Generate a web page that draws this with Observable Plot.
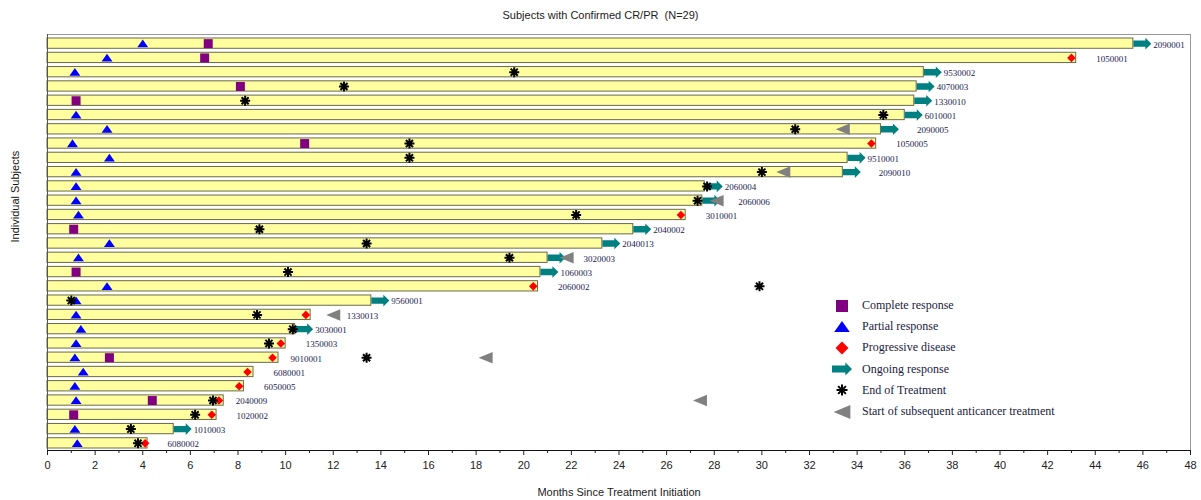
<!DOCTYPE html>
<html><head><meta charset="utf-8">
<script src="https://cdn.jsdelivr.net/npm/d3@7"></script>
<script src="https://cdn.jsdelivr.net/npm/@observablehq/plot@0.6"></script>
<style>
body{margin:0;background:#fff;}
#wrap{position:relative;width:1201px;height:500px;overflow:hidden;background:#fff;}
#title{height:26px;font:11px "Liberation Sans",Arial,sans-serif;line-height:30px;text-align:center;color:#222;white-space:pre;}
#legend{position:absolute;left:830px;top:295px;font:12px "Liberation Serif","Times New Roman",serif;color:#1a1a40;}
.li{display:flex;align-items:center;height:21.2px;white-space:nowrap;}
.li svg{width:24px;height:16px;margin-right:8px;flex:none;}
</style></head><body>
<div id="wrap"><div id="title">Subjects with Confirmed CR/PR  (N=29)</div><div id="chart"></div><div id="legend"></div></div>
<script>
// ---- data (months since treatment initiation) ----
const subjects = ["2090001","1050001","9530002","4070003","1330010","6010001","2090005","1050005","9510001","2090010","2060004","2060006","3010001","2040002","2040013","3020003","1060003","2060002","9560001","1330013","3030001","1350003","9010001","6080001","6050005","2040009","1020002","1010003","6080002"];
const duration = [45.6,43.2,36.8,36.5,36.4,36.0,35.0,34.8,33.6,33.4,27.6,27.5,26.8,24.6,23.3,21.0,20.7,20.6,13.6,11.05,10.4,10.0,9.7,8.65,8.25,7.4,7.1,5.3,4.2];
const complete = [6.75,6.6,null,8.1,1.2,null,null,10.8,null,null,null,null,null,1.1,null,null,1.2,null,null,null,null,null,2.6,null,null,4.4,1.1,null,null];
const partial = [4.0,2.5,1.15,null,null,1.2,2.5,1.05,2.6,1.2,1.2,1.2,1.3,null,2.6,1.3,null,2.5,1.2,1.2,1.4,1.2,1.15,1.5,1.15,1.2,null,1.15,1.25];
const progressive = [null,43.0,null,null,null,null,null,34.6,null,null,null,null,26.6,null,null,null,null,20.4,null,10.85,null,9.8,9.45,8.4,8.05,7.2,6.9,null,4.1];
const endTreatment = [null,null,19.6,12.45,8.3,35.1,31.4,15.2,15.2,30.0,27.7,27.3,22.2,8.9,13.4,19.4,10.1,29.9,1.0,8.8,10.3,9.3,13.4,null,null,6.95,6.2,3.5,3.8];
const subsequent = [null,null,null,null,null,null,33.4,null,null,30.9,null,28.1,null,null,null,21.8,null,null,null,12.0,null,null,18.4,null,null,27.4,null,null,null];
const ongoing = [1,0,1,1,1,1,1,0,1,1,1,1,0,1,1,1,1,0,1,0,1,0,0,0,0,0,0,1,0];
const majorTicks = [0,2,4,6,8,10,12,14,16,18,20,22,24,26,28,30,32,34,36,38,40,42,44,46,48];
const minorTicks = [1,3,5,7,9,11,13,15,17,19,21,23,25,27,29,31,33,35,37,39,41,43,45,47];
const legendLabels = ["Complete response","Partial response","Progressive disease","Ongoing response","End of Treatment","Start of subsequent anticancer treatment"];

const rows = subjects.map((id, i) => ({
  id, dur: duration[i], cr: complete[i], pr: partial[i], pd: progressive[i],
  eot: endTreatment[i], subs: subsequent[i], ongoing: !!ongoing[i]
}));

// ---- custom symbols ----
const arrowSymbol = {draw(ctx, size) {
  const k = Math.sqrt(size / Math.PI) / 9;
  ctx.moveTo(-9*k, -3.2*k); ctx.lineTo(3*k, -3.2*k); ctx.lineTo(3*k, -5.8*k);
  ctx.lineTo(9*k, 0); ctx.lineTo(3*k, 5.8*k); ctx.lineTo(3*k, 3.2*k);
  ctx.lineTo(-9*k, 3.2*k); ctx.closePath();
}};
const leftTriangle = {draw(ctx, size) {
  const r = Math.sqrt(size / Math.PI);
  ctx.moveTo(-1.4*r, 0); ctx.lineTo(1.4*r, -1.15*r); ctx.lineTo(1.4*r, 1.15*r); ctx.closePath();
}};
const starSymbol = {draw(ctx, size) {
  const r = Math.sqrt(size / Math.PI);
  for (let a = 0; a < 4; a++) {
    const t = a * Math.PI / 4;
    ctx.moveTo(-r*Math.cos(t), -r*Math.sin(t)); ctx.lineTo(r*Math.cos(t), r*Math.sin(t));
  }
}};
const upTriangle = {draw(ctx, size) {
  const r = Math.sqrt(size / Math.PI);
  ctx.moveTo(0, -1.0*r); ctx.lineTo(1.3*r, 0.85*r); ctx.lineTo(-1.3*r, 0.85*r); ctx.closePath();
}};
const diamondSym = {draw(ctx, size) {
  const r = Math.sqrt(size / Math.PI);
  ctx.moveTo(0, -r); ctx.lineTo(r, 0); ctx.lineTo(0, r); ctx.lineTo(-r, 0); ctx.closePath();
}};
const squareSym = {draw(ctx, size) {
  const r = Math.sqrt(size / Math.PI);
  ctx.rect(-r, -r, 2*r, 2*r);
}};

const C = {cr:"#800080", pr:"#0000ff", pd:"#ff0000", arrow:"#008080", eot:"#000000", subs:"#808080"};

// label placement groups (a subsequent-treatment marker near the bar end pushes the label further right)
const nearSubs = d => d.subs != null && d.subs > d.dur - 5 && d.subs < d.dur + 3;
const farSubs = d => d.subs != null && !nearSubs(d);
const noSubs = d => d.subs == null;

const has = k => rows.filter(d => d[k] != null);
const labelStyle = {x: "dur", y: "id", text: "id", dy: 1, textAnchor: "start",
  fontFamily: '"Liberation Serif", "Times New Roman", serif', fontSize: 9, fill: "#1a1a50"};

const chart = Plot.plot({
  width: 1201,
  height: 474,
  marginLeft: 47,
  marginRight: 11,
  marginTop: 8,
  marginBottom: 50,
  style: {fontFamily: '"Liberation Sans", Arial, sans-serif', fontSize: "11px", color: "#222", background: "#fff"},
  x: {domain: [0, 48]},
  y: {type: "band", domain: subjects, padding: 0, round: false, insetTop: 2, axis: null},
  marks: [
    Plot.frame({stroke: "#999"}),
    Plot.barX(rows, {x1: 0, x2: "dur", y: "id", fill: "#ffffa0", stroke: "#6a6a4a", strokeWidth: 1, insetTop: 2, insetBottom: 2}),
    Plot.dot(rows.filter(d => d.ongoing), {x: "dur", y: "id", symbol: arrowSymbol, r: 9, dx: 9, fill: C.arrow, stroke: "none"}),
    Plot.dot(has("subs"), {x: "subs", y: "id", symbol: leftTriangle, r: 5, fill: C.subs, stroke: "none"}),
    Plot.dot(has("cr"), {x: "cr", y: "id", symbol: squareSym, r: 4.5, fill: C.cr, stroke: "none"}),
    Plot.dot(has("pr"), {x: "pr", y: "id", symbol: upTriangle, r: 4.2, fill: C.pr, stroke: "none"}),
    Plot.dot(has("pd"), {x: "pd", y: "id", symbol: diamondSym, r: 4.3, fill: C.pd, stroke: "none"}),
    Plot.dot(has("eot"), {x: "eot", y: "id", symbol: starSymbol, r: 5, fill: "none", stroke: C.eot, strokeWidth: 2}),
    Plot.text(rows.filter(noSubs), {...labelStyle, dx: 20}),
    Plot.text(rows.filter(nearSubs), {...labelStyle, dx: 36}),
    Plot.text(rows.filter(farSubs), {...labelStyle, dx: 12}),
    Plot.frame({anchor: "left", stroke: "#555"}),
    Plot.frame({anchor: "bottom", stroke: "#111"}),
    Plot.axisX({ticks: minorTicks, tickSize: 3, tickFormat: () => "", label: null}),
    Plot.axisX({ticks: majorTicks, tickSize: 5, tickPadding: 6, fontSize: 11,
      label: "Months Since Treatment Initiation", labelAnchor: "center", labelArrow: "none", labelOffset: 45}),
    Plot.text(["Individual Subjects"], {frameAnchor: "left", rotate: -90, dx: -32, fontSize: 11, fill: "#111"})
  ]
});
document.getElementById("chart").appendChild(chart);

// ---- legend ----
const legendSymbols = [
  {sym: squareSym, r: 6, fill: C.cr},
  {sym: upTriangle, r: 6, fill: C.pr},
  {sym: diamondSym, r: 6.5, fill: C.pd},
  {sym: arrowSymbol, r: 10, fill: C.arrow},
  {sym: starSymbol, r: 5.5, stroke: C.eot},
  {sym: leftTriangle, r: 6, fill: C.subs}
];
const legend = d3.select("#legend");
legendLabels.forEach((lab, i) => {
  const s = legendSymbols[i];
  const row = legend.append("div").attr("class", "li");
  const svg = row.append("svg").attr("viewBox", "-12 -8 24 16");
  svg.append("path")
    .attr("d", d3.symbol(s.sym, Math.PI * s.r * s.r)())
    .attr("fill", s.fill || "none")
    .attr("stroke", s.stroke || "none")
    .attr("stroke-width", s.stroke ? 2 : 0);
  row.append("span").text(lab);
});
</script>
</body></html>
